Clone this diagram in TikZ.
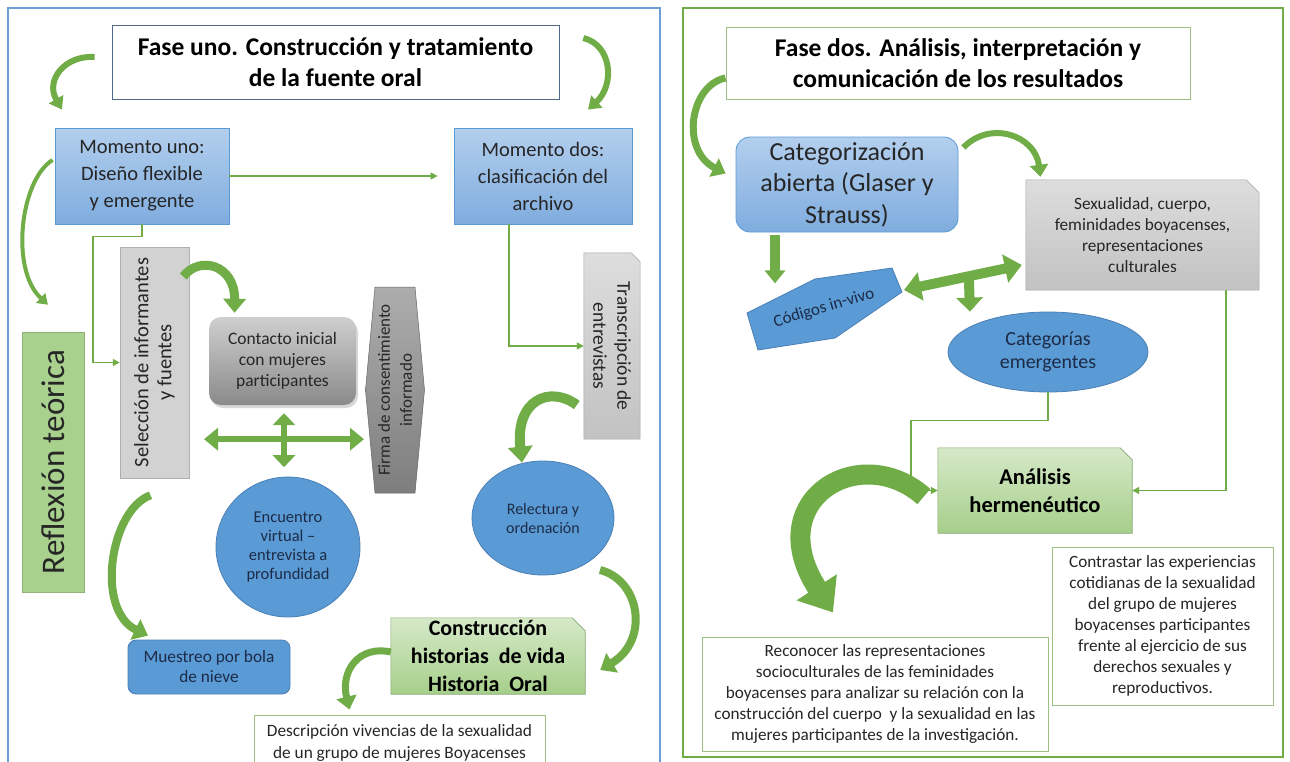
\documentclass[tikz,border=0pt]{standalone}
\usepackage{fontspec}
\setmainfont{Carlito}
\usetikzlibrary{arrows.meta,calc,shadows,backgrounds,shapes.geometric}
\definecolor{agreen}{HTML}{70AD47}
\definecolor{bblue}{HTML}{5B9BD5}
\definecolor{bblueD}{HTML}{4A7FB5}
\definecolor{lblueT}{HTML}{B3CFEE}
\definecolor{lblueB}{HTML}{7FACDE}
\definecolor{greyT}{HTML}{DDDDDD}
\definecolor{greyB}{HTML}{C2C2C2}
\definecolor{dgreyT}{HTML}{CFCFCF}
\definecolor{dgreyB}{HTML}{8A8A8A}
\definecolor{fgreyT}{HTML}{ADADAD}
\definecolor{fgreyB}{HTML}{7E7E7E}
\definecolor{lgreenT}{HTML}{D6E9C9}
\definecolor{lgreenB}{HTML}{A6CF8A}
\definecolor{rgreen}{HTML}{A9D18E}
\definecolor{boxgreen}{HTML}{9CBF82}
\definecolor{frameblue}{HTML}{6C9FD6}
\definecolor{titleline}{HTML}{50698A}
\definecolor{navy}{HTML}{1C2B47}
\newcommand{\snipbox}[3]{%
  \path[#3] (#1.south west) -- (#1.north west) -- ($(#1.north east)+(-#2,0)$) -- ($(#1.north east)+(0,#2)$) -- (#1.south east) -- cycle;}
\tikzset{
  conn/.style={draw=agreen,line width=1.5pt,-{Triangle[width=7pt,length=7pt]}},
  carrow/.style n args={3}{draw=agreen,line width=#1,-{Triangle[width=#2,length=#3]}},
  barrow/.style n args={3}{draw=agreen,line width=#1,{Triangle[width=#2,length=#3]}-{Triangle[width=#2,length=#3]}},
  txt/.style={align=center,inner sep=0pt},
  mombox/.style={txt,draw=bblue,line width=0.8pt,top color=lblueT,bottom color=lblueB,text=black!85},
  bluefill/.style={txt,fill=bblue,draw=bblueD,line width=0.8pt,text=navy},
  whitebox/.style={txt,fill=white,draw=boxgreen,line width=1pt,text=black!85},
  greysnip/.style={draw=greyB!85!black,line width=0.5pt,top color=greyT,bottom color=greyB},
  greensnip/.style={draw=rgreen!80!black,line width=0.6pt,top color=lgreenT,bottom color=lgreenB}
}
\begin{document}
\begin{tikzpicture}[x=1pt,y=-1pt]
\useasboundingbox (0,0) rectangle (1290,761);
\begin{scope}[on background layer]
\fill[white] (0,0) rectangle (1290,761);
\draw[frameblue,line width=2pt] (8,8) rectangle (660,775);
\draw[agreen,line width=2pt] (683,8) rectangle (1283,757);
\end{scope}

% ---------- left panel nodes
\node[txt,draw=titleline,line width=0.8pt,fill=white,minimum width=447pt,minimum height=74pt,
  font=\fontsize{25.5}{31}\bfseries\selectfont] (title1) at (335.5,62)
  {Fase uno. Construcción y tratamiento\\de la fuente oral};
\node[mombox,minimum width=174pt,minimum height=96pt,font=\fontsize{20.5}{27}\selectfont] (mom1) at (142,176)
  {Momento uno:\\Diseño flexible\\y emergente};
\node[mombox,minimum width=178pt,minimum height=96pt,font=\fontsize{20.5}{27}\selectfont] (mom2) at (543,176)
  {Momento dos:\\clasificación del\\archivo};
\node[txt,rotate=90,minimum width=260pt,minimum height=62pt,fill=rgreen,draw=rgreen!85!black,line width=0.6pt,
  text=black!85,font=\fontsize{33}{36}\selectfont] (reflex) at (53,462) {Reflexión teórica};
\node[txt,rotate=90,minimum width=231pt,minimum height=69pt,fill=greyT!60!greyB,draw=greyB!90!black,line width=0.5pt,
  text=black!85,font=\fontsize{20.5}{23}\selectfont] (selec) at (154.5,362.5)
  {Selección de informantes\\y fuentes};
\node[txt,rounded corners=12pt,minimum width=147pt,minimum height=88pt,top color=dgreyT,bottom color=dgreyB,
  drop shadow={opacity=0.3,shadow xshift=2pt,shadow yshift=-3pt},
  text=black!85,font=\fontsize{17.5}{21}\selectfont] (contacto) at (282.5,361)
  {Contacto inicial\\con mujeres\\participantes};
\node[txt,rotate=90,minimum width=206pt,minimum height=45pt,text=black!85,
  font=\fontsize{17}{22}\selectfont] (firma) at (395,390)
  {Firma de consentimiento\\informado};
\node[txt,rotate=-90,minimum width=186pt,minimum height=56pt,text=black!85,
  font=\fontsize{19.5}{24}\selectfont] (transc) at (612,346)
  {Transcripción de\\entrevistas};
\node[bluefill,ellipse,minimum width=142pt,minimum height=114pt,font=\fontsize{16}{19}\selectfont] (relect) at (543,518)
  {Relectura y\\ordenación};
\node[bluefill,ellipse,minimum width=144pt,minimum height=140pt,font=\fontsize{16.5}{19}\selectfont] (encuentro) at (288,547)
  {Encuentro\\virtual –\\entrevista a\\profundidad};
\node[bluefill,rounded corners=8pt,minimum width=162pt,minimum height=54pt,font=\fontsize{17.3}{20}\selectfont] (muestreo) at (209,667)
  {Muestreo por bola\\de nieve};
\node[txt,minimum width=194pt,minimum height=76pt,text=black,font=\fontsize{22}{28}\bfseries\selectfont] (constr) at (488,656)
  {Construcción\\historias\ \ de vida\\Historia\ \ Oral};
\node[whitebox,minimum width=291pt,minimum height=56pt,font=\fontsize{17.3}{22}\selectfont] (descr) at (399.5,743)
  {Descripción vivencias de la sexualidad\\de un grupo de mujeres Boyacenses};

% ---------- right panel nodes
\node[txt,draw=boxgreen,line width=1pt,fill=white,minimum width=464pt,minimum height=72pt,
  font=\fontsize{25.5}{31}\bfseries\selectfont] (title2) at (958,63)
  {Fase dos. Análisis, interpretación y\\comunicación de los resultados};
\node[mombox,rounded corners=14pt,minimum width=222pt,minimum height=95pt,font=\fontsize{26}{31.5}\selectfont] (categ) at (847,184.5)
  {Categorización\\abierta (Glaser y\\Strauss)};
\node[txt,minimum width=233pt,minimum height=110pt,text=black!85,font=\fontsize{17.3}{21}\selectfont] (sexual) at (1142.5,235)
  {Sexualidad, cuerpo,\\feminidades boyacenses,\\representaciones\\culturales};
\node[txt,rotate=16.5,text=navy,font=\fontsize{17}{20}\selectfont] (codigos) at (824,308) {Códigos in-vivo};
\node[bluefill,ellipse,minimum width=200pt,minimum height=80pt,font=\fontsize{20}{23}\selectfont] (categem) at (1048,352)
  {Categorías\\emergentes};
\node[txt,minimum width=194pt,minimum height=85pt,text=black,font=\fontsize{22.5}{28}\bfseries\selectfont] (analisis) at (1035,490.5)
  {Análisis\\hermenéutico};
\node[whitebox,minimum width=346pt,minimum height=114pt,font=\fontsize{17.2}{21}\selectfont] (reconocer) at (875,694)
  {Reconocer las representaciones\\socioculturales de las feminidades\\boyacenses para analizar su relación con la\\construcción del cuerpo\ \ y la sexualidad en las\\mujeres participantes de la investigación.};
\node[whitebox,minimum width=221pt,minimum height=158pt,font=\fontsize{17.2}{21}\selectfont] (contrastar) at (1162.5,626)
  {Contrastar las experiencias\\cotidianas de la sexualidad\\del grupo de mujeres\\boyacenses participantes\\frente al ejercicio de sus\\derechos sexuales y\\reproductivos.};

% ---------- shapes behind text
\begin{scope}[on background layer]
\snipbox{constr}{13}{greensnip}
\snipbox{analisis}{12}{greensnip}
\snipbox{sexual}{13}{greysnip}
\path[greysnip] (transc.south east) -- (transc.south west) -- ($(transc.north west)+(-9,0)$) -- ($(transc.north west)+(0,9)$) -- (transc.north east) -- cycle;
\begin{scope}[shift={(firma.center)}]
\path[draw=fgreyB!80!black,line width=0.5pt,top color=fgreyT,bottom color=fgreyB]
  (-20,-103) -- (20,-103) -- (29.5,0) -- (20,103) -- (-20,103) -- (-29.5,0) -- cycle;
\end{scope}
\begin{scope}[shift={(codigos.center)}]
\path[fill=bblue,draw=bblueD,line width=0.8pt]
  (-77,5) -- (-9,-29) -- (68,-40) -- (78,-16) -- (11,30) -- (-66,42) -- cycle;
\end{scope}
\end{scope}

% ---------- thin connectors
\draw[conn] (mom1.east) -- ($(mom2.west)+(-16,0)$);
\draw[conn] (mom1.south) -- ++(0,12) -- ++(-49,0) |- (selec.north);
\draw[conn] ($(mom2.south)+(-34,0)$) |- (transc.south);
\draw[conn] (categem.south) -- ++(0,28) -| ($(analisis.west)+(-27,0)$) -- (analisis.west);
\draw[conn] ($(sexual.south)+(83.5,0)$) |- (analisis.east);

% ---------- block arrows
\coordinate (cross) at ($(contacto.south)+(1.5,34)$);
\draw[barrow={6pt}{22pt}{14pt}] ($(cross)+(-80,0)$) -- ($(cross)+(80,0)$);
\draw[barrow={6pt}{22pt}{12pt}] ($(cross)+(0,-26)$) -- ($(cross)+(0,28)$);
\draw[carrow={10pt}{20pt}{13pt}] ($(categ.south)+(-72,3)$) -- ++(0,48);
\coordinate (tl) at ($(codigos.center)+(80,-18)$);
\coordinate (tr) at ($(sexual.west)+(-4,30)$);
\draw[barrow={10pt}{28pt}{17pt}] (tl) -- (tr);
\draw[carrow={10pt}{26pt}{14pt}] ($(tl)!0.55!(tr)$) -- ($(categem.north)+(-78,0)$);

% ---------- curved arrows
\draw[carrow={6pt}{16pt}{12pt}] ($(title1.west)+(-17,-5)$) .. controls (65,55) and (45,80) .. ($(mom1.north)+(-80,-18)$);
\draw[carrow={6pt}{16pt}{12pt}] ($(title1.east)+(24,-24)$) .. controls (612,45) and (615,85) .. ($(mom2.north)+(45,-18)$);
\draw[carrow={4pt}{13pt}{10pt}] ($(mom1.west)+(-2,-16)$) .. controls (20,180) and (10,270) .. ($(reflex.east)+(-5,-27)$);
\draw[carrow={9pt}{22pt}{14pt}] ($(selec.south)+(-6,-86)$) .. controls (200,255) and (235,265) .. ($(contacto.north)+(-48,-4)$);
\draw[carrow={10pt}{24pt}{16pt}] ($(transc.south)+(-7,59)$) .. controls (550,385) and (515,400) .. ($(relect.north)+(-21,2)$);
\draw[carrow={8pt}{22pt}{14pt}] ($(selec.west)+(-4,17)$) .. controls (110,510) and (95,610) .. ($(muestreo.north)+(-61,-4)$);
\draw[carrow={8pt}{22pt}{14pt}] ($(relect.center)+(57,52)$) .. controls (640,580) and (650,640) .. ($(constr.east)+(15,14)$);
\draw[carrow={7pt}{20pt}{13pt}] ($(constr.west)+(0,-4)$) .. controls (360,645) and (340,670) .. ($(descr.north)+(-50,-5)$);
\draw[carrow={7pt}{20pt}{13pt}] ($(title2.west)+(0,15)$) .. controls (690,85) and (680,150) .. ($(categ.west)+(-10,-11)$);
\draw[carrow={6pt}{18pt}{12pt}] ($(categ.east)+(5,-37)$) .. controls (990,120) and (1035,135) .. ($(sexual.north)+(-102,-3)$);
\draw[carrow={20pt}{46pt}{30pt}] ($(analisis.west)+(-14,6)$) .. controls (860,440) and (760,500) .. ($(reconocer.north)+(-42,-24)$);
\end{tikzpicture}
\end{document}
